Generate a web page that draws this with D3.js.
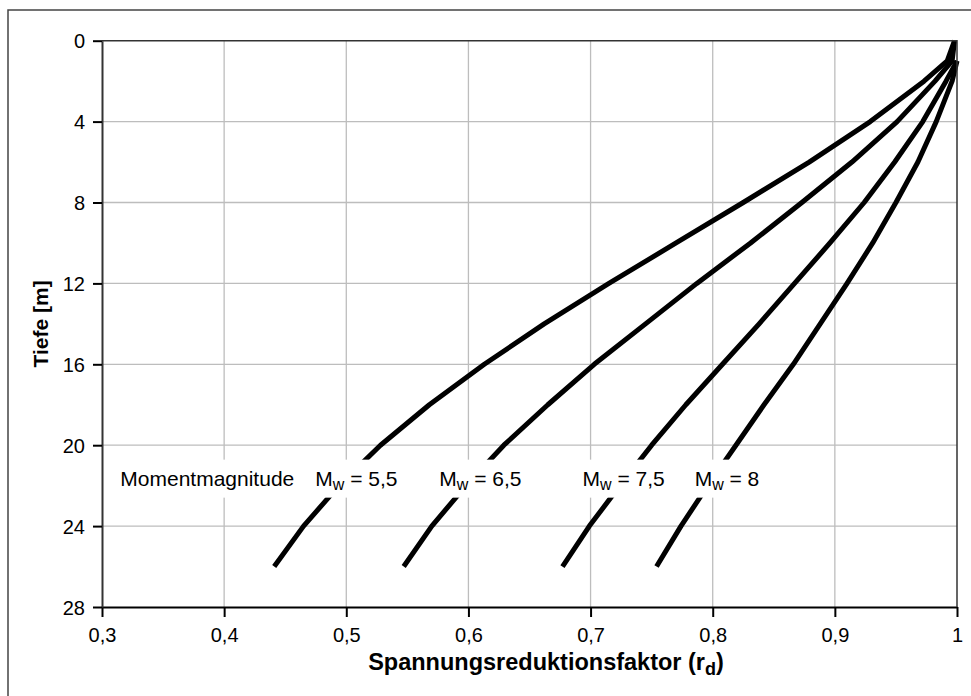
<!DOCTYPE html>
<html>
<head>
<meta charset="utf-8">
<script src="https://cdn.jsdelivr.net/npm/d3@7"></script>
<style>
  body { margin: 0; background: #fff; }
  svg { display: block; }
  text { font-family: "Liberation Sans", Arial, sans-serif; fill: #000; }
</style>
</head>
<body>
<svg id="chart" width="971" height="696"></svg>
<script>
// Tiefe [m] der Stützstellen
const depths = [0, 1, 2, 4, 6, 8, 10, 12, 14, 16, 18, 20, 22, 24, 26];
// r_d je Momentmagnitude
const rdM55 = [0.998, 0.992, 0.973, 0.929, 0.879, 0.825, 0.770, 0.715, 0.662, 0.613, 0.568, 0.528, 0.494, 0.465, 0.441];
const rdM65 = [0.998, 0.996, 0.982, 0.951, 0.914, 0.873, 0.831, 0.787, 0.745, 0.703, 0.665, 0.629, 0.598, 0.570, 0.547];
const rdM75 = [null, 1.000, 0.991, 0.972, 0.949, 0.924, 0.896, 0.867, 0.838, 0.808, 0.778, 0.750, 0.724, 0.699, 0.677];
const rdM80 = [null, 1.000, 0.996, 0.983, 0.968, 0.950, 0.931, 0.910, 0.888, 0.866, 0.842, 0.819, 0.796, 0.774, 0.754];

const seriesNames = ['5,5', '6,5', '7,5', '8'];
const seriesValues = [rdM55, rdM65, rdM75, rdM80];

// Beschriftungen im Diagramm
const labelPos = [0.315, 0.4746, 0.5762, 0.6934, 0.7852];
const labelDepth = 22;

const xTicks = [0.3, 0.4, 0.5, 0.6, 0.7, 0.8, 0.9, 1.0];
const yTicks = [0, 4, 8, 12, 16, 20, 24, 28];

const svg = d3.select('#chart');

// äußerer Rahmen (rechts/unten außerhalb des Bildes)
svg.append('rect')
  .attr('x', 8).attr('y', 10)
  .attr('width', 1200).attr('height', 1200)
  .attr('fill', 'none')
  .attr('stroke', '#444')
  .attr('stroke-width', 1.5);

const x = d3.scaleLinear().domain([0.3, 1.0]).range([102, 957]);
const y = d3.scaleLinear().domain([0, 28]).range([40.7, 607]);

const fmt = v => d3.format('.1f')(v).replace('.0', '').replace('.', ',');

// Gitterlinien
svg.append('g')
  .selectAll('line.v')
  .data(xTicks.slice(1, -1))
  .enter().append('line')
  .attr('x1', d => x(d)).attr('x2', d => x(d))
  .attr('y1', y(0)).attr('y2', y(28))
  .attr('stroke', '#bdbdbd').attr('stroke-width', 1.3);

svg.append('g')
  .selectAll('line.h')
  .data(yTicks.slice(1, -1))
  .enter().append('line')
  .attr('x1', x(0.3)).attr('x2', x(1.0))
  .attr('y1', d => y(d)).attr('y2', d => y(d))
  .attr('stroke', '#bdbdbd').attr('stroke-width', 1.3);

// Kurven
const line = d3.line()
  .defined(d => d.rd != null)
  .x(d => x(d.rd))
  .y(d => y(d.z));

seriesValues.forEach((vals, i) => {
  const pts = depths.map((z, j) => ({ z: z, rd: vals[j] }));
  svg.append('path')
    .datum(pts)
    .attr('class', 'curve')
    .attr('d', line)
    .attr('fill', 'none')
    .attr('stroke', '#000')
    .attr('stroke-width', 5)
    .attr('stroke-linejoin', 'round');
});

// Beschriftungen mit weißem Hintergrund
const labels = svg.append('g');
const labelTexts = ['Momentmagnitude'].concat(seriesNames);

labelTexts.forEach((txt, i) => {
  const g = labels.append('g');
  const t = g.append('text')
    .attr('x', x(labelPos[i]))
    .attr('y', y(labelDepth))
    .style('font-size', '21px');
  if (i === 0) {
    t.text(txt);
  } else {
    t.append('tspan').text('M');
    t.append('tspan').attr('dy', 4).style('font-size', '16px').text('w');
    t.append('tspan').attr('dy', -4).text(' = ' + txt);
  }
  const bb = t.node().getBBox();
  g.insert('rect', 'text')
    .attr('x', bb.x - 5)
    .attr('y', y(labelDepth) - 26)
    .attr('width', bb.width + 10)
    .attr('height', 38)
    .attr('fill', '#fff');
});

// Achsen
const xAxis = svg.append('g')
  .attr('transform', `translate(0,${y(28)})`)
  .call(d3.axisBottom(x).tickValues(xTicks).tickFormat(fmt).tickSize(10).tickSizeOuter(0));
xAxis.select('.domain').attr('stroke', '#000').attr('stroke-width', 2);
xAxis.selectAll('.tick line').attr('stroke', '#000').attr('stroke-width', 2);
xAxis.selectAll('.tick text')
  .attr('y', 35).attr('dy', null)
  .style('font-size', '20px')
  .style('font-family', '"Liberation Sans", Arial, sans-serif')
  .attr('fill', '#000');

const yAxis = svg.append('g')
  .attr('transform', `translate(${x(0.3)},0)`)
  .call(d3.axisLeft(y).tickValues(yTicks).tickSize(9).tickPadding(8).tickSizeOuter(0));
yAxis.select('.domain').attr('stroke', '#333').attr('stroke-width', 2);
yAxis.selectAll('.tick line').attr('stroke', '#000').attr('stroke-width', 2);
yAxis.selectAll('.tick text')
  .attr('dy', '0.36em')
  .style('font-size', '20px')
  .style('font-family', '"Liberation Sans", Arial, sans-serif')
  .attr('fill', '#000');

// oberer und rechter Rand der Zeichenfläche
svg.append('path')
  .attr('d', `M${x(0.3)},${y(0)}H${x(1.0)}V${y(28)}`)
  .attr('fill', 'none')
  .attr('stroke', '#333')
  .attr('stroke-width', 1.5);

// Achsentitel
const xTitle = svg.append('text')
  .attr('x', 546)
  .attr('y', 670)
  .attr('text-anchor', 'middle')
  .style('font-size', '23.5px')
  .style('font-weight', 'bold');
xTitle.append('tspan').text('Spannungsreduktionsfaktor (r');
xTitle.append('tspan').attr('dy', 5).style('font-size', '18px').text('d');
xTitle.append('tspan').attr('dy', -5).text(')');

svg.append('text')
  .attr('transform', `translate(48,${(y(0) + y(28)) / 2}) rotate(-90)`)
  .attr('text-anchor', 'middle')
  .style('font-size', '21px')
  .style('font-weight', 'bold')
  .text('Tiefe [m]');
</script>
</body>
</html>
